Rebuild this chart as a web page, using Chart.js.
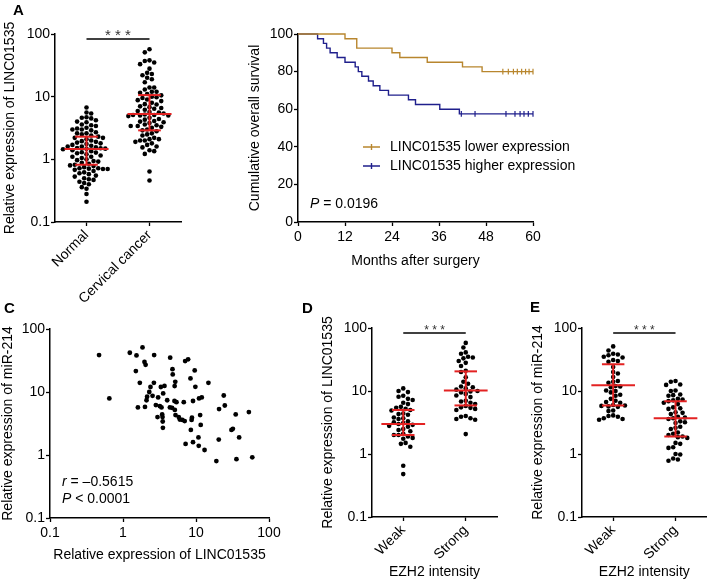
<!DOCTYPE html>
<html>
<head>
<meta charset="utf-8">
<script src="https://cdn.jsdelivr.net/npm/chart.js@4.4.0/dist/chart.umd.min.js"></script>
<style>
  body { margin: 0; background: #fff; }
  #fig { position: relative; width: 709px; height: 581px; overflow: hidden; font-family: "Liberation Sans", Arial, sans-serif; }
  canvas { position: absolute; }
  .tag { position: absolute; font-weight: bold; font-size: 15px; line-height: 16px; }
</style>
</head>
<body>
<div id="fig">
  <canvas id="cA" width="200" height="310" style="left:0;top:0"></canvas>
  <canvas id="cKM" width="345" height="290" style="left:240px;top:0"></canvas>
  <canvas id="cC" width="300" height="291" style="left:0;top:290px"></canvas>
  <canvas id="cD" width="200" height="291" style="left:320px;top:290px"></canvas>
  <canvas id="cE" width="189" height="291" style="left:520px;top:290px"></canvas>
  <div class="tag" style="left:13px;top:2px">A</div>
  <div class="tag" style="left:4px;top:300px">C</div>
  <div class="tag" style="left:302px;top:300px">D</div>
  <div class="tag" style="left:530px;top:299px">E</div>
</div>
<script>
// --- DATA ---
const logTicks = [0.1, 1, 10, 100];

// A (left): LINC01535 in normal vs cervical cancer tissue
const tissueCats = ['Normal', 'Cervical cancer'];
const normalExpr = [6.7, 5.6, 5.4, 4.7, 4.6, 4.5, 4.2, 4.0, 3.9, 3.6, 3.5, 3.4, 3.2, 3.1, 3.0, 3.0, 2.9, 2.7,
  2.6, 2.6, 2.5, 2.4, 2.3, 2.2, 2.2, 2.1, 2.0, 1.95, 1.9, 1.85, 1.8, 1.75, 1.7, 1.65, 1.6, 1.6, 1.55, 1.52,
  1.5, 1.48, 1.47, 1.45, 1.4, 1.35, 1.3, 1.28, 1.25, 1.2, 1.15, 1.1, 1.1, 1.05, 1.0, 0.97, 0.94, 0.92, 0.88,
  0.85, 0.82, 0.8, 0.78, 0.75, 0.72, 0.72, 0.71, 0.7, 0.7, 0.68, 0.65, 0.62, 0.6, 0.58, 0.55, 0.53, 0.5,
  0.48, 0.47, 0.44, 0.42, 0.4, 0.36, 0.34, 0.28, 0.21];
const cancerExpr = [57, 51, 38, 37, 35, 33, 28, 24, 23, 22, 20, 19, 17, 14, 14, 13, 12, 12, 11.5, 11,
  10.5, 10, 9.8, 9.5, 9, 8.8, 8.5, 8, 7.6, 7.5, 7, 6.8, 6.6, 6.4, 6.2, 5.9, 5.7, 5.6, 5.4, 5.2,
  5.1, 5.1, 5.0, 5.0, 4.9, 4.6, 4.4, 4.3, 4.1, 4.0, 3.9, 3.8, 3.6, 3.5, 3.4, 3.4, 3.3, 3.2, 3.0, 2.9,
  2.8, 2.6, 2.5, 2.4, 2.2, 2.1, 2.1, 2.0, 2.0, 1.9, 1.8, 1.7, 1.6, 1.55, 1.4, 1.35, 1.22, 0.64, 0.46];
const tissueMedian = [1.46, 5.3];
const tissueQ1 = [0.82, 2.9];
const tissueQ3 = [2.3, 10.6];

// A (right): Kaplan-Meier
const lowerTimes = [0, 12, 15, 24, 26, 33, 42, 47, 60];
const lowerSurv = [100, 97.5, 92.5, 90, 87.5, 85, 82.5, 80, 80];
const higherTimes = [0, 5, 6.5, 7.3, 8.2, 10, 12, 14.6, 15.4, 16.3, 18, 19.2, 20.9, 23.1, 28.2, 30, 36.2, 41.2, 60];
const higherSurv = [100, 97.5, 95, 92.5, 90, 87.5, 85, 82.5, 80, 77.5, 75, 72.5, 70, 67.5, 65, 62.5, 60, 57.5, 57.5];
const lowerCensored = [52.3, 53.7, 55, 56, 57.1, 58.1, 59, 60];
const higherCensored = [41.7, 45.2, 53.1, 55.4, 56.7, 57.7, 58.8, 60];
const kmNames = ['LINC01535 lower expression', 'LINC01535 higher expression'];

// C: correlation LINC01535 vs miR-214
const corrLinc = [0.47, 0.65, 1.24, 1.53, 1.85, 1.97, 2.04, 1.5, 1.7, 2.67, 2.65, 2.38, 3.3, 3.7, 4.43, 4.76,
  4.8, 5.2, 5.1, 7.1, 7.8, 9.6, 8.4, 9.8, 14.8, 1.6, 2.0, 2.1, 2.14, 2.54, 3.03, 3.55, 4.03, 2.82, 3.2, 3.37,
  2.97, 3.44, 3.48, 3.52, 3.5, 4.39, 4.7, 5.07, 5.4, 5.13, 5.24, 5.8, 6.0, 6.5, 7.0, 6.8, 8.7, 8.8, 9.1, 11.0,
  12.0, 11.4, 11.6, 8.5, 10.8, 7.2, 9.1, 10.9, 13.1, 19, 20.5, 20.7, 24, 24.8, 30.6, 32, 35, 35.8, 39, 53, 59, 2.29];
const corrMir = [38.5, 7.9, 42, 38, 51, 30, 27, 21.5, 14, 38.5, 14, 12, 12, 12.5, 35, 23,
  19, 14.5, 12.4, 31, 33, 22, 16.4, 12.1, 14, 5.7, 5.8, 7.4, 8.4, 8.7, 8.2, 9.5, 7.4, 6.2, 5.95, 5.7,
  4.0, 4.4, 4.0, 2.7, 3.4, 5.7, 5.6, 7.2, 6.9, 5.2, 4.3, 4.0, 3.66, 3.6, 3.45, 6.9, 3.6, 3.9, 7.2, 7.9,
  8.2, 4.3, 3.0, 2.5, 1.9, 1.5, 1.6, 1.4, 1.2, 0.8, 1.76, 5.35, 8.8, 6.1, 2.5, 2.6, 4.4, 0.86, 1.9, 4.8, 0.92, 10];

// D and E: EZH2 intensity groups
const ezhCats = ['Weak', 'Strong'];
const weakLinc = [11, 10, 9.6, 8.4, 8.1, 7.5, 7.2, 6.5, 6.2, 5.6, 5.4, 5.2, 5.0, 4.9, 4.4, 4.3, 4.2, 3.8, 3.7,
  3.6, 3.3, 3.2, 3.1, 3.0, 2.9, 2.8, 2.7, 2.5, 2.4, 2.3, 2.1, 2.0, 2.0, 1.9, 1.8, 1.75, 1.5, 1.45, 1.3, 0.65, 0.48];
const strongLinc = [58, 49, 41, 39, 35, 34, 33, 30, 28, 25, 21, 20, 16.5, 14, 13, 11.8, 11.5, 11, 10.5, 10,
  9.8, 9.5, 9, 8.5, 8, 7, 6.8, 6.5, 6.2, 5.8, 5.5, 5.4, 5.2, 5.0, 4.0, 3.9, 3.7, 3.6, 3.5, 2.07];
const lincMedian = [3.0, 10.2];
const lincQ1 = [2.0, 5.9];
const lincQ3 = [5.0, 20.5];
const weakMir = [51, 44, 39, 38, 37, 35, 34, 31, 30, 29, 24, 20, 19, 16.7, 14.4, 14, 13.5, 12, 11.8, 11.5,
  10.2, 10, 9.5, 8.7, 8.4, 7.5, 7.0, 6.7, 6.5, 6.0, 5.9, 5.8, 5.7, 5.6, 4.9, 4.8, 4.1, 4.0, 3.9, 3.7, 3.6, 3.5];
const strongMir = [14.4, 14, 12.7, 12.5, 10.2, 10, 8.8, 8.6, 8.4, 7.5, 7.3, 7.1, 6.9, 6.5, 6.2, 5.5, 5.3, 5.2,
  4.6, 4.5, 4.3, 3.9, 3.8, 3.7, 3.6, 3.3, 3.2, 3.1, 2.7, 2.6, 2.5, 2.2, 2.1, 2.0, 1.9, 1.85, 1.8, 1.5, 1.45,
  1.28, 1.25, 1.0, 0.98, 0.85, 0.82, 0.78];
const mirMedian = [12.3, 3.7];
const mirQ1 = [5.9, 1.9];
const mirQ3 = [26.5, 6.9];

// --- STYLE ---
const FONT = '"Liberation Sans", Arial, sans-serif';
const RED = '#e32222';
const ORANGE = '#b8862e';
const BLUE = '#1f1f8c';
Chart.defaults.font.family = FONT;
Chart.defaults.font.size = 14;
Chart.defaults.color = '#000';
Chart.defaults.animation = false;

const GRID = { drawOnChartArea: false, tickLength: 4, tickColor: '#000', tickWidth: 1.3 };
const BORDER = { color: '#000', width: 1.5 };

function yLog(title, width, titlePad) {
  return {
    type: 'logarithmic', min: 0.1, max: 100, bounds: 'data',
    afterBuildTicks: s => { s.ticks = logTicks.map(v => ({ value: v })); },
    afterFit: s => { s.width = width; s.paddingTop = 0; s.paddingBottom = 0; },
    ticks: { callback: v => String(v), padding: 1 },
    grid: GRID, border: BORDER,
    title: { display: true, text: title, padding: { top: titlePad, bottom: 0 } }
  };
}

function xCats(labels, height, title) {
  return {
    type: 'linear', min: 0.5, max: 2.5, bounds: 'data',
    afterBuildTicks: s => { s.ticks = [{ value: 1 }, { value: 2 }]; },
    afterFit: s => { s.height = height; s.paddingLeft = 0; s.paddingRight = 0; },
    ticks: { callback: v => labels[Math.round(v) - 1], minRotation: 45, maxRotation: 45, autoSkip: false, padding: 1 },
    grid: GRID, border: BORDER,
    title: title ? { display: true, text: title, padding: { top: 0, bottom: 0 } } : { display: false }
  };
}

function dots(values, center) {
  return {
    data: values.map(v => ({ x: center, y: v })), swarm: center,
    pointRadius: 2.3, pointBackgroundColor: '#000', pointBorderWidth: 0, pointHoverRadius: 2.3, order: 1
  };
}

// median with interquartile range, drawn as red lines
function summaryBars(med, q1, q3) {
  const seg = pts => ({ data: pts, showLine: true, borderColor: RED, borderWidth: 2, pointRadius: 0, order: 0 });
  const out = [];
  med.forEach((m, i) => {
    const c = i + 1;
    out.push(seg([{ x: c - 0.35, y: m }, { x: c + 0.35, y: m }]));
    out.push(seg([{ x: c, y: q1[i] }, { x: c, y: q3[i] }]));
    out.push(seg([{ x: c - 0.18, y: q1[i] }, { x: c + 0.18, y: q1[i] }]));
    out.push(seg([{ x: c - 0.18, y: q3[i] }, { x: c + 0.18, y: q3[i] }]));
  });
  return out;
}

// spread points of a group sideways so they do not overlap
function swarm(chart) {
  const xs = chart.scales.x, ys = chart.scales.y;
  const unit = xs.getPixelForValue(2) - xs.getPixelForValue(1);
  const D = 4.7, step = D / 2;
  chart.data.datasets.forEach(ds => {
    if (ds.swarm === undefined) return;
    const placed = [];
    ds.data.slice().sort((a, b) => b.y - a.y).forEach((p, i) => {
      const py = ys.getPixelForValue(p.y);
      const sign = i % 2 ? -1 : 1;
      let dx = 0;
      for (let k = 0; k < 80; k++) {
        const m = Math.ceil(k / 2);
        dx = sign * (k % 2 ? 1 : -1) * m * step;
        if (placed.every(q => (q.dx - dx) ** 2 + (q.py - py) ** 2 >= D * D)) break;
      }
      placed.push({ dx, py });
      p.x = ds.swarm + dx / unit;
    });
  });
  chart.update('none');
}

const sigPlugin = {
  id: 'sig',
  afterDraw(chart) {
    const { ctx, chartArea, scales } = chart;
    const x1 = scales.x.getPixelForValue(1), x2 = scales.x.getPixelForValue(2);
    const y = chartArea.top + 5;
    ctx.save();
    ctx.strokeStyle = '#000';
    ctx.lineWidth = 1.3;
    ctx.beginPath(); ctx.moveTo(x1, y); ctx.lineTo(x2, y); ctx.stroke();
    ctx.fillStyle = '#333';
    ctx.font = (chart.options.starSize || 13) + 'px ' + FONT;
    ctx.textAlign = 'center';
    ctx.textBaseline = 'alphabetic';
    ctx.fillText('* * *', (x1 + x2) / 2, y + 1);
    ctx.restore();
  }
};

function italicNote(ctx, x, y, ital, rest) {
  ctx.font = 'italic 14px ' + FONT;
  ctx.fillText(ital, x, y);
  const w = ctx.measureText(ital).width;
  ctx.font = '14px ' + FONT;
  ctx.fillText(rest, x + w, y);
}

function dotPlot(id, cats, groups, med, q1, q3, yTitle, yWidth, yPad, xHeight, xTitle, pad, starSize) {
  const chart = new Chart(document.getElementById(id), {
    type: 'scatter',
    data: { datasets: [...summaryBars(med, q1, q3), dots(groups[0], 1), dots(groups[1], 2)] },
    options: {
      responsive: false, starSize,
      layout: { padding: pad },
      plugins: { legend: { display: false }, tooltip: { enabled: false } },
      scales: { x: xCats(cats, xHeight, xTitle), y: yLog(yTitle, yWidth, yPad) }
    },
    plugins: [sigPlugin]
  });
  swarm(chart);
  return chart;
}

// --- A left ---
dotPlot('cA', tissueCats, [normalExpr, cancerExpr], tissueMedian, tissueQ1, tissueQ3,
  'Relative expression of LINC01535', 55, 2, 88, null, { top: 34, right: 19, left: 0, bottom: 0 }, 15);

// --- D ---
dotPlot('cD', ezhCats, [weakLinc, strongLinc], lincMedian, lincQ1, lincQ3,
  'Relative expression of LINC01535', 52, 0, 64, 'EZH2 intensity', { top: 38, right: 23, left: 0, bottom: 0 }, 12);

// --- E ---
dotPlot('cE', ezhCats, [weakMir, strongMir], mirMedian, mirQ1, mirQ3,
  'Relative expression of miR-214', 62, 10, 64, 'EZH2 intensity', { top: 38, right: 2, left: 0, bottom: 0 }, 12);

// --- A right: survival ---
const toPts = (t, s) => t.map((x, i) => ({ x, y: s[i] }));
const survAt = (t, s, m) => { let v = s[0]; t.forEach((x, i) => { if (x <= m) v = s[i]; }); return v; };
const censor = (t, s, c, col) => ({
  data: c.map(m => ({ x: m, y: survAt(t, s, m) })), pointStyle: 'line', rotation: 90,
  pointRadius: 2.8, pointHoverRadius: 2.8, pointBorderColor: col, pointBorderWidth: 1.2, clip: false
});
const kmColors = [ORANGE, BLUE];

new Chart(document.getElementById('cKM'), {
  type: 'scatter',
  data: {
    datasets: [
      { data: toPts(lowerTimes, lowerSurv), showLine: true, stepped: 'before', borderColor: ORANGE, borderWidth: 1.4, pointRadius: 0, clip: false },
      { data: toPts(higherTimes, higherSurv), showLine: true, stepped: 'before', borderColor: BLUE, borderWidth: 1.4, pointRadius: 0, clip: false },
      censor(lowerTimes, lowerSurv, lowerCensored, ORANGE),
      censor(higherTimes, higherSurv, higherCensored, BLUE)
    ]
  },
  options: {
    responsive: false,
    layout: { padding: { top: 34, right: 52, left: 0, bottom: 0 } },
    plugins: { legend: { display: false }, tooltip: { enabled: false } },
    scales: {
      x: {
        type: 'linear', min: 0, max: 60, bounds: 'data',
        ticks: { stepSize: 12, padding: 3 },
        afterFit: s => { s.height = 68; s.paddingLeft = 0; s.paddingRight = 0; },
        grid: GRID, border: BORDER,
        title: { display: true, text: 'Months after surgery', padding: { top: 0, bottom: 20 } }
      },
      y: {
        type: 'linear', min: 0, max: 100, bounds: 'data',
        ticks: { stepSize: 20, padding: 1 },
        afterFit: s => { s.width = 58; s.paddingTop = 0; s.paddingBottom = 0; },
        grid: GRID, border: BORDER,
        title: { display: true, text: 'Cumulative overall survival', padding: { top: 7, bottom: 0 } }
      }
    }
  },
  plugins: [{
    id: 'kmNotes',
    afterDraw(chart) {
      const { ctx, chartArea: a } = chart;
      ctx.save();
      ctx.textBaseline = 'middle';
      ctx.fillStyle = '#000';
      kmNames.forEach((name, i) => {
        const x = a.left + 65, y = a.top + 113 + i * 19;
        ctx.strokeStyle = kmColors[i];
        ctx.lineWidth = 1.4;
        ctx.beginPath();
        ctx.moveTo(x, y); ctx.lineTo(x + 17, y);
        ctx.moveTo(x + 8.5, y - 3); ctx.lineTo(x + 8.5, y + 3);
        ctx.stroke();
        ctx.font = '14px ' + FONT;
        ctx.fillText(name, x + 27, y);
      });
      italicNote(ctx, a.left + 12, a.top + 170, 'P', ' = 0.0196');
      ctx.restore();
    }
  }]
});

// --- C: scatter ---
new Chart(document.getElementById('cC'), {
  type: 'scatter',
  data: {
    datasets: [{
      data: corrLinc.map((x, i) => ({ x, y: corrMir[i] })),
      pointRadius: 2.4, pointHoverRadius: 2.4, pointBackgroundColor: '#000', pointBorderWidth: 0
    }]
  },
  options: {
    responsive: false,
    layout: { padding: { top: 39, right: 31, left: 0, bottom: 0 } },
    plugins: { legend: { display: false }, tooltip: { enabled: false } },
    scales: {
      x: {
        type: 'logarithmic', min: 0.1, max: 100, bounds: 'data',
        afterBuildTicks: s => { s.ticks = logTicks.map(v => ({ value: v })); },
        afterFit: s => { s.height = 63; s.paddingLeft = 0; s.paddingRight = 0; },
        ticks: { callback: v => String(v), padding: 3 },
        grid: GRID, border: BORDER,
        title: { display: true, text: 'Relative expression of LINC01535', padding: { top: 0, bottom: 17 } }
      },
      y: yLog('Relative expression of miR-214', 50, 0)
    }
  },
  plugins: [{
    id: 'corrNotes',
    afterDraw(chart) {
      const { ctx, chartArea: a } = chart;
      ctx.save();
      ctx.textBaseline = 'middle';
      ctx.fillStyle = '#000';
      italicNote(ctx, a.left + 12, a.top + 153, 'r', ' = \u20130.5615');
      italicNote(ctx, a.left + 12, a.top + 170, 'P', ' < 0.0001');
      ctx.restore();
    }
  }]
});
</script>
</body>
</html>
